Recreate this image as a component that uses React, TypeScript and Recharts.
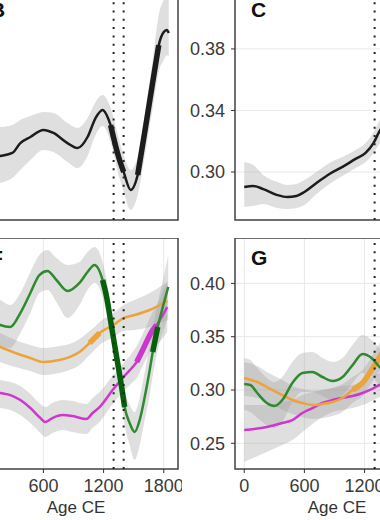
import React from "react"
import {
  ComposedChart, Line, Area, XAxis, YAxis, CartesianGrid, ReferenceLine, ReferenceArea
} from "recharts"

const FONT = '"Liberation Sans", Arial, Helvetica, sans-serif'

const xTicks = [0, 600, 1200, 1800]
const xDomain = [-92, 1942]
const eventYears = [1300, 1400]

// panel B (black, top left)
const bYears = [0, 170, 290, 370, 470, 600, 700, 840, 940, 1040, 1120, 1190, 1270, 1350, 1400, 1470, 1540, 1620, 1690, 1750, 1800, 1830, 1850]
const bMean = [0.2869, 0.2881, 0.2899, 0.2958, 0.2994, 0.3036, 0.3018, 0.2958, 0.2928, 0.2994, 0.3107, 0.3155, 0.3065, 0.2875, 0.2786, 0.2679, 0.2768, 0.3059, 0.3321, 0.3541, 0.3619, 0.3631, 0.3613]
const bHi = [0.3083, 0.3053, 0.3065, 0.3095, 0.3119, 0.3143, 0.3137, 0.3077, 0.3047, 0.3107, 0.3202, 0.3244, 0.3166, 0.2988, 0.2887, 0.2798, 0.2875, 0.3166, 0.3452, 0.372, 0.3809, 0.3839, 0.3839]
const bLo = [0.2679, 0.272, 0.275, 0.2798, 0.2857, 0.2917, 0.2905, 0.2845, 0.2809, 0.2881, 0.3006, 0.3059, 0.2964, 0.2768, 0.2667, 0.256, 0.2649, 0.2917, 0.3166, 0.3381, 0.3452, 0.3482, 0.347]
const bSig = [0, 0, 0, 0, 0, 0, 0, 0, 0, 0, 0, 0, 1, 1, 1, 0, 1, 1, 1, 1, 0, 0, 0]

// panel C (black, top right)
const cYears = [0, 90, 190, 330, 430, 520, 600, 720, 850, 980, 1110, 1210, 1290, 1340, 1420]
const cMean = [0.2902, 0.2909, 0.2889, 0.285, 0.2837, 0.2844, 0.287, 0.2928, 0.2987, 0.3033, 0.3085, 0.3124, 0.3189, 0.3254, 0.334]
const cHi = [0.3065, 0.3046, 0.2981, 0.2935, 0.2916, 0.2922, 0.2948, 0.3, 0.3059, 0.3098, 0.3143, 0.3189, 0.326, 0.3325, 0.34]
const cLo = [0.2773, 0.2779, 0.2792, 0.2766, 0.276, 0.2766, 0.2786, 0.2857, 0.2922, 0.2974, 0.3026, 0.3065, 0.3124, 0.3176, 0.325]

// panel F (bottom left)
const fgYears = [0, 170, 270, 370, 470, 560, 640, 730, 840, 960, 1040, 1110, 1190, 1230, 1280, 1330, 1380, 1410, 1460, 1510, 1560, 1610, 1660, 1690, 1740, 1780, 1845]
const fgMean = [0.386, 0.3691, 0.3669, 0.3826, 0.4051, 0.4253, 0.4298, 0.4197, 0.4074, 0.4164, 0.4287, 0.4366, 0.4197, 0.4006, 0.3669, 0.3332, 0.2995, 0.277, 0.259, 0.2489, 0.2624, 0.2882, 0.3186, 0.3388, 0.3669, 0.3849, 0.4119]
const fgHi = [0.4107, 0.3972, 0.3916, 0.4051, 0.4287, 0.4478, 0.4534, 0.4444, 0.4365, 0.4399, 0.4512, 0.4568, 0.4399, 0.4197, 0.3837, 0.3489, 0.3163, 0.296, 0.2792, 0.2713, 0.2871, 0.3163, 0.3466, 0.3657, 0.3938, 0.4141, 0.4478]
const fgLo = [0.3579, 0.3444, 0.3433, 0.3601, 0.3826, 0.4051, 0.4084, 0.395, 0.377, 0.3916, 0.4084, 0.4163, 0.4006, 0.3826, 0.35, 0.3163, 0.2814, 0.2567, 0.2342, 0.2174, 0.2342, 0.2623, 0.2904, 0.3118, 0.341, 0.3579, 0.377]
const fgSig = [0, 0, 0, 0, 0, 0, 0, 0, 0, 0, 0, 0, 1, 1, 1, 1, 1, 1, 0, 0, 0, 0, 0, 1, 1, 0, 0]

const foYears = [0, 170, 320, 470, 600, 760, 860, 960, 1060, 1110, 1160, 1300, 1400, 1510, 1660, 1835]
const foMean = [0.3545, 0.3444, 0.3377, 0.332, 0.3275, 0.3298, 0.3331, 0.3388, 0.3489, 0.3545, 0.3601, 0.3691, 0.377, 0.3803, 0.386, 0.3961]
const foHi = [0.3725, 0.3601, 0.3522, 0.3466, 0.3432, 0.3455, 0.3477, 0.3534, 0.3624, 0.3669, 0.3725, 0.3826, 0.3916, 0.3972, 0.4051, 0.4174]
const foLo = [0.3388, 0.3275, 0.3219, 0.3174, 0.3129, 0.3152, 0.3185, 0.3241, 0.3354, 0.341, 0.3466, 0.3556, 0.3624, 0.3635, 0.3669, 0.3747]
const foSig = [0, 0, 0, 0, 0, 0, 0, 0, 1, 1, 1, 0, 0, 0, 0, 0]

const fmYears = [0, 170, 270, 370, 470, 570, 620, 690, 790, 890, 1030, 1090, 1160, 1290, 1390, 1490, 1530, 1590, 1690, 1730, 1790, 1835]
const fmMean = [0.2983, 0.2927, 0.2904, 0.2848, 0.2758, 0.2646, 0.2601, 0.2646, 0.2679, 0.2668, 0.2635, 0.2702, 0.2769, 0.296, 0.3095, 0.3219, 0.3275, 0.341, 0.3635, 0.3691, 0.3803, 0.3893]
const fmHi = [0.3163, 0.3073, 0.3051, 0.3006, 0.2916, 0.2803, 0.2769, 0.2815, 0.2848, 0.2837, 0.2803, 0.2871, 0.2938, 0.3118, 0.3253, 0.3388, 0.3455, 0.359, 0.3837, 0.3916, 0.4062, 0.4197]
const fmLo = [0.2792, 0.2758, 0.2736, 0.2679, 0.259, 0.2477, 0.2432, 0.2477, 0.2511, 0.2488, 0.2466, 0.2533, 0.2601, 0.2803, 0.2938, 0.3051, 0.3096, 0.323, 0.3433, 0.3466, 0.3545, 0.3612]
const fmSig = [0, 0, 0, 0, 0, 0, 0, 0, 0, 0, 0, 0, 0, 0, 0, 0, 1, 1, 1, 1, 0, 0]

// panel G (bottom right)
const ggYears = [0, 60, 130, 225, 300, 380, 480, 580, 680, 780, 880, 980, 1080, 1180, 1270, 1350, 1420]
const ggMean = [0.3056, 0.3047, 0.2972, 0.2878, 0.285, 0.2906, 0.3066, 0.3159, 0.3169, 0.3122, 0.3084, 0.3122, 0.3234, 0.3338, 0.33, 0.3216, 0.3159]
const ggHi = [0.33, 0.3281, 0.3206, 0.3113, 0.3075, 0.3122, 0.3263, 0.3347, 0.3356, 0.33, 0.3263, 0.33, 0.3422, 0.3516, 0.3469, 0.3394, 0.3338]
const ggLo = [0.2812, 0.2793, 0.2737, 0.2671, 0.2643, 0.27, 0.2887, 0.2981, 0.2981, 0.2943, 0.2906, 0.2953, 0.3066, 0.3159, 0.3131, 0.3037, 0.2981]

const goYears = [0, 130, 225, 380, 480, 580, 680, 780, 880, 980, 1080, 1180, 1270, 1350, 1420]
const goMean = [0.3113, 0.3075, 0.3028, 0.2953, 0.2906, 0.2878, 0.2859, 0.2869, 0.2887, 0.2925, 0.3, 0.3066, 0.3188, 0.3309, 0.3422]
const goHi = [0.3262, 0.3225, 0.3169, 0.3094, 0.3038, 0.3009, 0.2991, 0.3, 0.3019, 0.3056, 0.3122, 0.3188, 0.331, 0.3441, 0.3563]
const goLo = [0.2943, 0.2925, 0.2887, 0.2812, 0.2775, 0.2747, 0.2728, 0.2737, 0.2756, 0.2793, 0.2878, 0.2943, 0.3066, 0.3178, 0.3281]
const goSig = [0, 0, 0, 0, 0, 0, 0, 0, 0, 0, 1, 1, 1, 1, 1]

const gmYears = [0, 225, 380, 480, 580, 680, 780, 880, 980, 1080, 1180, 1270, 1350, 1420]
const gmMean = [0.2625, 0.2653, 0.269, 0.2718, 0.2784, 0.2831, 0.2878, 0.2906, 0.2925, 0.2943, 0.2972, 0.3009, 0.3047, 0.3075]
const gmHi = [0.2859, 0.2859, 0.2887, 0.2906, 0.2953, 0.2981, 0.3, 0.3019, 0.3038, 0.3047, 0.3084, 0.3122, 0.3159, 0.3188]
const gmLo = [0.2325, 0.2418, 0.2484, 0.2531, 0.2606, 0.2681, 0.2747, 0.2793, 0.2812, 0.2831, 0.2859, 0.2897, 0.2934, 0.2962]

const BLACK = "#1c1c1c"
const GREEN = "#2f8a2f"
const DARK_GREEN = "#06600a"
const ORANGE = "#eba33a"
const MAGENTA = "#cc38cc"

const Y_W = 56
const PLOT_W = 204

function rows(years: number[], mean: number[], lo: number[], hi: number[], sig?: number[]) {
  return years.map((year, i) => ({
    year,
    mean: mean[i],
    band: [lo[i], hi[i]],
    sig: sig && sig[i] ? mean[i] : null,
  }))
}

function band(key: string, data: any[]) {
  return (
    <Area key={key + "-band"} data={data} dataKey="band" type="monotone" stroke="none"
      fill="#9e9e9e" fillOpacity={0.33} isAnimationActive={false} activeDot={false} />
  )
}

function lines(key: string, data: any[], color: string, sigColor: string) {
  return [
    <Line key={key + "-line"} data={data} dataKey="mean" type="monotone" stroke={color}
      strokeWidth={2.5} dot={false} activeDot={false} isAnimationActive={false} />,
    <Line key={key + "-sig"} data={data} dataKey="sig" type="monotone" stroke={sigColor}
      strokeWidth={5.5} dot={false} activeDot={false} connectNulls={false} isAnimationActive={false} />,
  ]
}

interface PanelProps {
  left: number
  top: number
  height: number
  yDomain: number[]
  yTicks: number[]
  tag: string
  showX: boolean
  showY: boolean
  children: React.ReactNode
}

function Panel({ left, top, height, yDomain, yTicks, tag, showX, showY, children }: PanelProps) {
  const xH = showX ? 52 : 10
  return (
    <div style={{ position: "absolute", left: left - Y_W, top }}>
      <ComposedChart width={Y_W + PLOT_W + 4} height={height + xH} margin={{ top: 0, right: 4, bottom: 0, left: 0 }}>
        <CartesianGrid stroke="#e8e8e8" strokeWidth={1} />
        <XAxis type="number" dataKey="year" domain={xDomain} ticks={xTicks} allowDataOverflow interval={0}
          height={xH} axisLine={false} tickSize={4} tickMargin={6}
          tickLine={{ stroke: "#333", strokeWidth: 1 }}
          tick={showX ? { fontSize: 18, fill: "#3a3a3a", fontFamily: FONT } : false}
          label={showX ? { value: "Age CE", position: "insideBottom", offset: 8, fill: "#333", fontSize: 17, fontFamily: FONT } : undefined} />
        <YAxis type="number" domain={yDomain} ticks={yTicks} allowDataOverflow interval={0} width={Y_W}
          axisLine={false} tickSize={4} tickMargin={6}
          tickLine={{ stroke: "#333", strokeWidth: 1 }}
          tickFormatter={(v: number) => v.toFixed(2)}
          tick={showY ? { fontSize: 18, fill: "#3a3a3a", fontFamily: FONT } : false} />
        {children}
        {eventYears.map((yr) => (
          <ReferenceLine key={yr} x={yr} stroke="#222" strokeWidth={2} strokeDasharray="2 6.3" />
        ))}
        <ReferenceArea x1={xDomain[0]} x2={xDomain[1]} y1={yDomain[0]} y2={yDomain[1]}
          fill="none" stroke="#444" strokeWidth={1.5} />
      </ComposedChart>
      <div style={{ position: "absolute", left: Y_W + 16, top: 9, fontSize: 21, lineHeight: "21px", fontWeight: "bold", fontFamily: FONT, color: "#111" }}>
        {tag}
      </div>
    </div>
  )
}

export default function App() {
  const b = rows(bYears, bMean, bLo, bHi, bSig)
  const c = rows(cYears, cMean, cLo, cHi)
  const fg = rows(fgYears, fgMean, fgLo, fgHi, fgSig)
  const fo = rows(foYears, foMean, foLo, foHi, foSig)
  const fm = rows(fmYears, fmMean, fmLo, fmHi, fmSig)
  const gg = rows(ggYears, ggMean, ggLo, ggHi)
  const go = rows(goYears, goMean, goLo, goHi, goSig)
  const gm = rows(gmYears, gmMean, gmLo, gmHi)

  return (
    <div style={{ position: "fixed", left: 0, top: 0, width: 380, height: 520, overflow: "hidden", background: "#fff", fontFamily: FONT }}>
      <Panel left={-26} top={-10} height={230} yDomain={[0.25, 0.3869]} yTicks={[0.3, 0.35]} tag="B" showX={false} showY={false}>
        {band("b", b)}
        {lines("b", b, BLACK, BLACK)}
      </Panel>
      <Panel left={235} top={-10} height={230} yDomain={[0.2688, 0.4183]} yTicks={[0.3, 0.34, 0.38]} tag="C" showX={false} showY>
        {band("c", c)}
        {lines("c", c, BLACK, BLACK)}
      </Panel>
      <Panel left={-26} top={238} height={231} yDomain={[0.2073, 0.4669]} yTicks={[0.25, 0.3, 0.35, 0.4, 0.45]} tag="F" showX showY={false}>
        {band("fg", fg)}
        {band("fo", fo)}
        {band("fm", fm)}
        {lines("fo", fo, ORANGE, ORANGE)}
        {lines("fm", fm, MAGENTA, MAGENTA)}
        {lines("fg", fg, GREEN, DARK_GREEN)}
      </Panel>
      <Panel left={235} top={238} height={231} yDomain={[0.2259, 0.4426]} yTicks={[0.25, 0.3, 0.35, 0.4]} tag="G" showX showY>
        {band("gg", gg)}
        {band("go", go)}
        {band("gm", gm)}
        {lines("gm", gm, MAGENTA, MAGENTA)}
        {lines("go", go, ORANGE, ORANGE)}
        {lines("gg", gg, GREEN, DARK_GREEN)}
      </Panel>
    </div>
  )
}
